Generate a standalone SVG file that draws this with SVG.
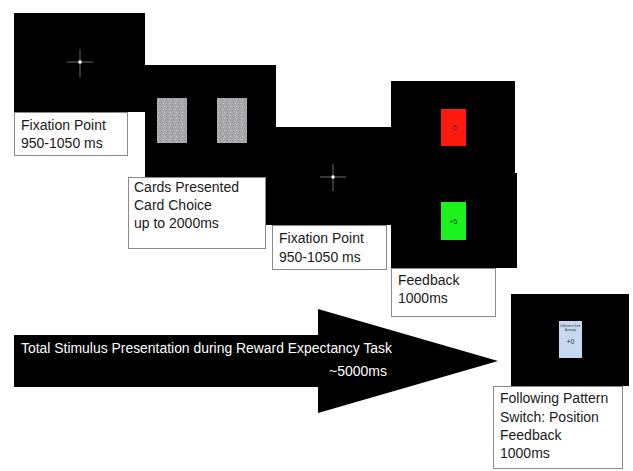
<svg xmlns="http://www.w3.org/2000/svg" width="633" height="471" viewBox="0 0 633 471">
<defs>
<style>
.screen{fill:#000}
.lbl{fill:#fff;stroke:#8a8a8a;stroke-width:1}
.t{font-family:"Liberation Sans","Noto Sans",sans-serif;font-size:14px;fill:#1a1a1a}
.cross{stroke:#6a6a6a;stroke-width:1}
.card{fill:#a9a9ab}
.tiny{font-family:"Liberation Sans",sans-serif;font-size:6px;fill:#333;text-anchor:middle}
</style>
<pattern id="noise" width="6" height="6" patternUnits="userSpaceOnUse">
<rect width="6" height="6" fill="#a8a8aa"/>
<rect x="1" y="1" width="1" height="1" fill="#c8c8ca"/>
<rect x="4" y="2" width="1" height="1" fill="#8e8e90"/>
<rect x="2" y="4" width="1" height="1" fill="#d0d0d2"/>
<rect x="5" y="5" width="1" height="1" fill="#959597"/>
</pattern>
</defs>
<rect width="633" height="471" fill="#fff"/>

<g id="fixation1">
<rect class="screen" x="14" y="13" width="131" height="99"/>
<line class="cross" x1="67" y1="62" x2="93" y2="62"/>
<line class="cross" x1="80" y1="49" x2="80" y2="77"/>
<rect x="78.5" y="60.5" width="3" height="3" fill="#fff"/>
<rect class="lbl" x="14.5" y="112.5" width="113" height="43"/>
<text class="t" x="21" y="130">Fixation Point</text>
<text class="t" x="21" y="148">950-1050 ms</text>
</g>

<g id="cards">
<rect class="screen" x="145" y="65" width="131" height="112"/>
<rect x="157" y="98" width="30" height="45" fill="url(#noise)"/>
<rect x="217" y="98" width="30" height="45" fill="url(#noise)"/>
<rect class="lbl" x="128.5" y="177.5" width="137" height="71"/>
<text class="t" x="134" y="192">Cards Presented</text>
<text class="t" x="134" y="210">Card Choice</text>
<text class="t" x="134" y="228">up to 2000ms</text>
</g>

<g id="fixation2">
<rect class="screen" x="266" y="127" width="128" height="98"/>
<rect class="screen" x="276" y="127" width="10" height="50"/>
<line class="cross" x1="320" y1="177" x2="346" y2="177"/>
<line class="cross" x1="333" y1="164" x2="333" y2="191"/>
<rect x="331.5" y="175.5" width="3" height="3" fill="#fff"/>
<rect class="lbl" x="272.5" y="225.5" width="114" height="44"/>
<text class="t" x="279" y="243">Fixation Point</text>
<text class="t" x="279" y="262">950-1050 ms</text>
</g>

<g id="feedback">
<rect class="screen" x="391" y="81" width="124" height="93"/>
<rect class="screen" x="391" y="173" width="126" height="95"/>
<rect x="441" y="109" width="25" height="37" fill="#ff1a10"/>
<text class="tiny" x="453.5" y="130" style="font-size:7px">-5</text>
<rect x="441" y="202" width="25" height="38" fill="#1cf21c"/>
<text class="tiny" x="453.5" y="224" style="font-size:7px">+5</text>
<rect class="lbl" x="391.5" y="268.5" width="104" height="48"/>
<text class="t" x="398" y="285">Feedback</text>
<text class="t" x="398" y="303">1000ms</text>
</g>

<g id="switch">
<rect class="screen" x="511" y="294" width="118" height="92"/>
<rect x="559" y="321" width="23" height="37" fill="#c6d9f1"/>
<text class="tiny" x="570.5" y="327" style="font-size:3px">Difference from</text>
<text class="tiny" x="570.5" y="331" style="font-size:3px">Average</text>
<text class="tiny" x="570.5" y="344" style="font-size:7px">+0</text>
<rect class="lbl" x="493.5" y="386.5" width="129" height="82"/>
<text class="t" x="500" y="403">Following Pattern</text>
<text class="t" x="500" y="422">Switch: Position</text>
<text class="t" x="500" y="440">Feedback</text>
<text class="t" x="500" y="458">1000ms</text>
</g>

<g id="connectors">
<polygon points="14,335 318,335 318,309 498,361 318,413 318,387 14,387" fill="#000"/>
<text class="t" x="21" y="353" fill="#fff" style="fill:#fff" textLength="371" lengthAdjust="spacingAndGlyphs">Total Stimulus Presentation during Reward Expectancy Task</text>
<text class="t" x="387" y="376" style="fill:#fff;text-anchor:end">~5000ms</text>
</g>
</svg>
